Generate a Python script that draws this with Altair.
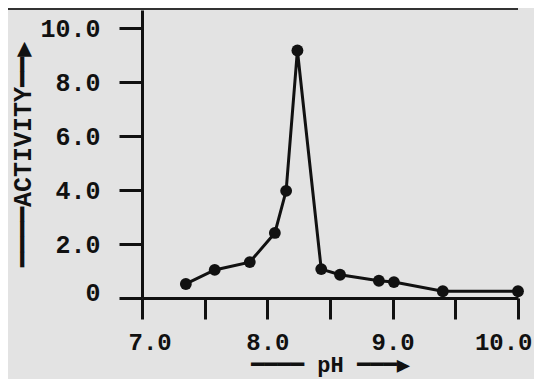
import altair as alt
import pandas as pd

# Data
ph = [7.35, 7.58, 7.86, 8.06, 8.15, 8.24, 8.43, 8.58, 8.89, 9.01, 9.40, 10.0]
activity = [0.52, 1.04, 1.33, 2.41, 3.97, 9.17, 1.07, 0.86, 0.64, 0.59, 0.25, 0.25]
x_ticks = [7.0, 7.5, 8.0, 8.5, 9.0, 9.5, 10.0]
y_ticks = [0, 2, 4, 6, 8, 10]

df = pd.DataFrame({"pH": ph, "activity": activity})

FONT = "Liberation Mono, DejaVu Sans Mono, monospace"
INK = "#111111"

x_enc = alt.X(
    "pH:Q",
    scale=alt.Scale(domain=[7.0, 10.0], nice=False, zero=False),
    axis=alt.Axis(
        values=x_ticks,
        labelExpr="datum.value % 1 == 0 ? format(datum.value, '.1f') : ''",
        title="━━━━ pH ━━━▶",
        titleFont=FONT,
        titleFontSize=22,
        titleFontWeight="bold",
        titleColor=INK,
        titleBaseline="middle",
        titleY=66,
        labelFont=FONT,
        labelFontSize=24,
        labelFontWeight="bold",
        labelColor=INK,
        labelBaseline="middle",
        labelPadding=23,
        labelFlush=True,
        labelFlushOffset=14,
        labelOverlap=False,
        tickSize=21,
        tickWidth=3,
        tickColor=INK,
        domainWidth=3,
        domainColor=INK,
        grid=False,
    ),
)

y_enc = alt.Y(
    "activity:Q",
    scale=alt.Scale(domain=[0, 10.67], nice=False),
    axis=alt.Axis(
        values=y_ticks,
        labelExpr="datum.value == 0 ? '0' : format(datum.value, '.1f')",
        title="━━━━ACTIVITY━━▶",
        titleFont=FONT,
        titleFontSize=25,
        titleFontWeight="bold",
        titleColor=INK,
        titleAngle=270,
        titleBaseline="middle",
        titleX=-120,
        labelFont=FONT,
        labelFontSize=25,
        labelFontWeight="bold",
        labelColor=INK,
        labelPadding=19,
        labelOffset={"condition": {"test": "datum.value == 0", "value": -6}, "value": 0},
        labelFlush=False,
        labelOverlap=False,
        tickSize=23,
        tickWidth=3,
        tickColor=INK,
        domainWidth=3,
        domainColor=INK,
        grid=False,
    ),
)

base = alt.Chart(df)
line = base.mark_line(color=INK, strokeWidth=3).encode(x=x_enc, y=y_enc)
pts = base.mark_circle(color=INK, size=140, opacity=1).encode(x="pH:Q", y="activity:Q")

header = alt.Chart(pd.DataFrame({"a": [0]})).mark_rule(color="#333333", strokeWidth=2).encode(
    x=alt.value(-134), x2=alt.value(376), y=alt.value(-1)
)

chart = (
    alt.layer(line, pts, header)
    .properties(
        width=376,
        height=288,
        autosize=alt.AutoSizeParams(type="none"),
        padding={"left": 134, "top": 2, "right": 16, "bottom": 81},
        background="#e3e3e3",
    )
    .configure_view(stroke=None)
)

chart.save("out.html", embed_options={"renderer": "svg", "actions": False})
